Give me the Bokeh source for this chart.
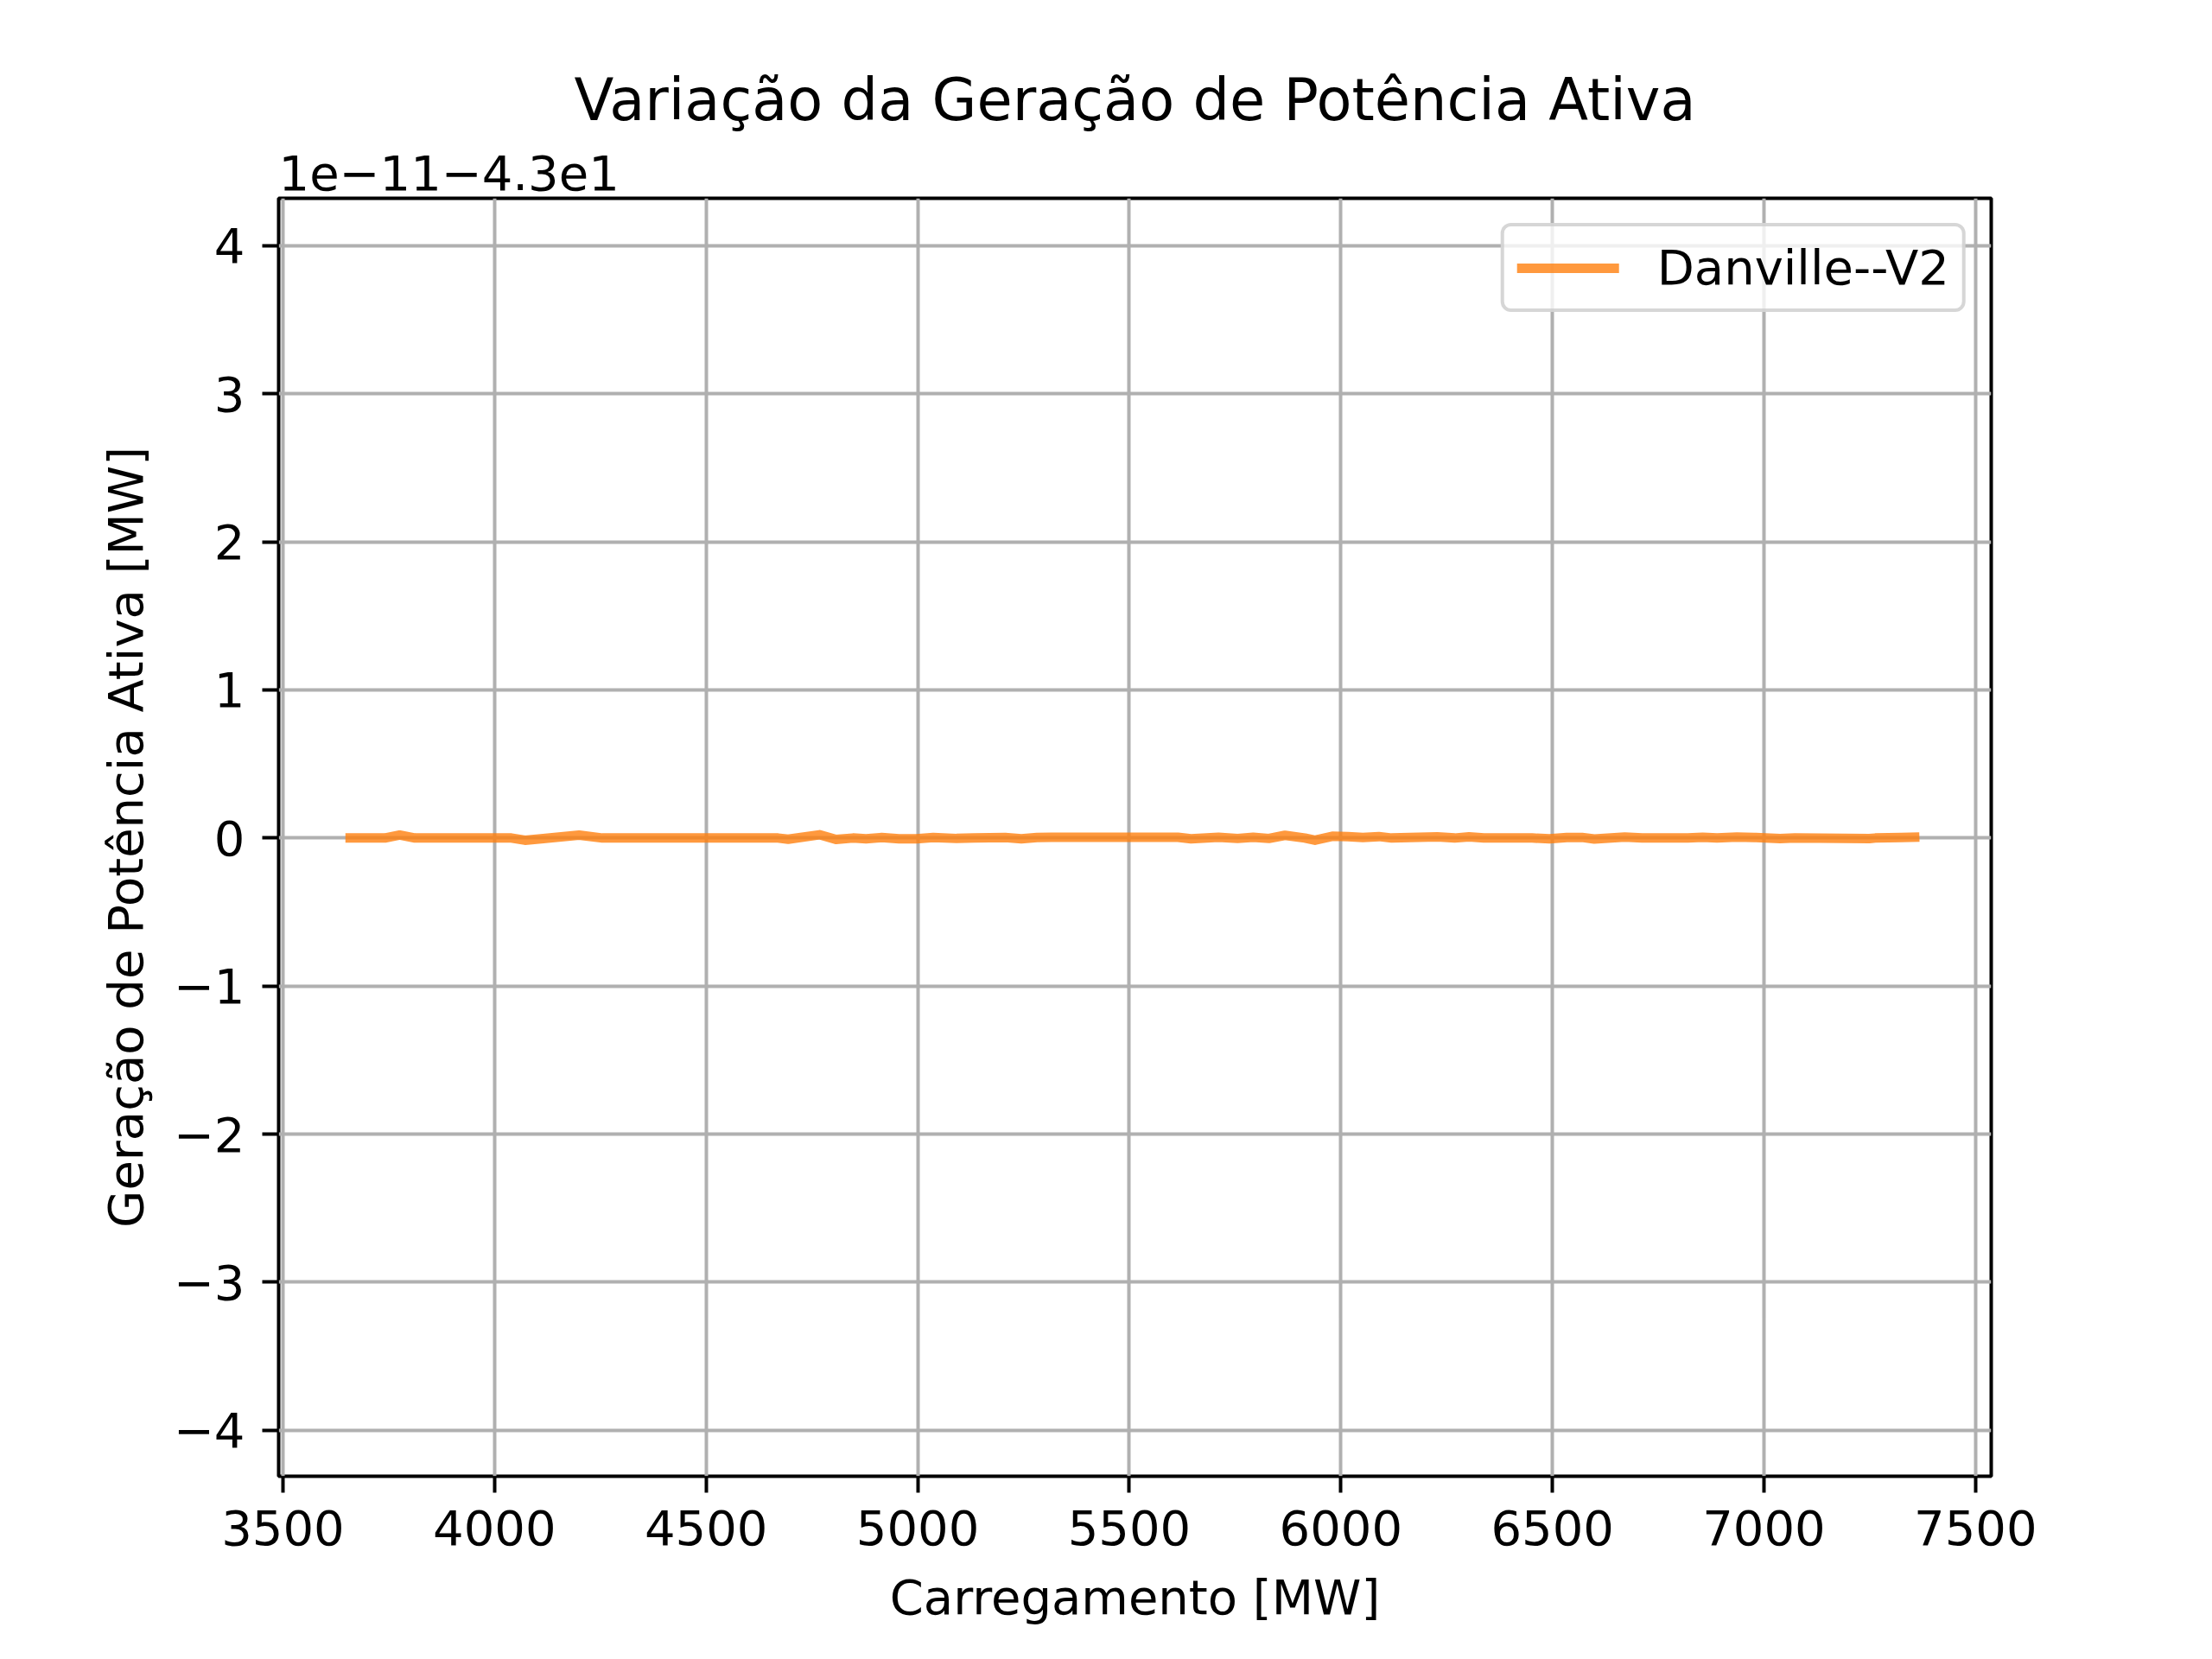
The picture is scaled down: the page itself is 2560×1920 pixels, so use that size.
from bokeh.plotting import figure
from bokeh.models import FixedTicker, Title, Legend, LegendItem, Range1d
from bokeh.embed import file_html
from bokeh.resources import INLINE

# Data (y as offset from -43, in units of 1e-11)
carregamento = [3659, 3741, 3776, 3812, 4040, 4072, 4110, 4200, 4255, 4670, 4694, 4768,
                4807, 4847, 4878, 4915, 4956, 4997, 5037, 5092, 5133, 5207, 5245, 5282,
                5316, 5615, 5646, 5711, 5756, 5793, 5830, 5868, 5915, 5939, 5980, 6017,
                6052, 6090, 6120, 6228, 6269, 6303, 6338, 6452, 6493, 6534, 6570, 6599,
                6671, 6712, 6820, 6855, 6889, 6936, 6977, 7038, 7073, 7249, 7263, 7324,
                7356]
geracao_offset = [0, 0, 0.02, 0, 0, -0.015, -0.005, 0.02, 0, 0, -0.008, 0.022,
                  -0.01, 0, -0.005, 0.003, -0.005, -0.005, 0.004, -0.003, 0, 0.004, -0.005, 0.003,
                  0.005, 0.005, -0.005, 0.005, -0.003, 0.005, -0.003, 0.018, 0, -0.015, 0.012, 0.01,
                  0.003, 0.01, 0, 0.008, 0, 0.008, 0, 0, -0.005, 0.004, 0.004, -0.007,
                  0.007, 0, 0, 0.005, 0, 0.006, 0.004, -0.004, 0, -0.004, 0, 0.003,
                  0.006]
serie_nome = "Danville--V2"
offset_text = "1e\u221211\u22124.3e1"
titulo = "Variação da Geração de Potência Ativa"
x_label = "Carregamento [MW]"
y_label = "Geração de Potência Ativa [MW]"
x_ticks = [3500, 4000, 4500, 5000, 5500, 6000, 6500, 7000, 7500]
y_ticks = [-4, -3, -2, -1, 0, 1, 2, 3, 4]

FONT = "DejaVu Sans"

p = figure(frame_width=1982, frame_height=1479,
           min_border_left=322, min_border_right=256,
           min_border_top=229, min_border_bottom=212,
           output_backend="svg", toolbar_location=None, title=None,
           x_range=Range1d(3490, 7537), y_range=Range1d(-4.31, 4.32))
p.background_fill_color = "white"
p.border_fill_color = "white"
p.outline_line_color = "black"
p.outline_line_width = 4
p.outline_line_alpha = 1

r = p.line(carregamento, geracao_offset, line_color="#ff7f0e", line_alpha=0.8,
           line_width=11, line_join="round", line_cap="square")

for ax, ticks in ((p.xaxis[0], x_ticks), (p.yaxis[0], y_ticks)):
    ax.ticker = FixedTicker(ticks=ticks)
    ax.major_tick_out = 19
    ax.major_tick_in = 0
    ax.minor_tick_line_color = None
    ax.major_tick_line_width = 4
    ax.major_tick_line_color = "black"
    ax.axis_line_color = None
    ax.major_label_text_font = FONT
    ax.major_label_text_font_size = "56px"
    ax.major_label_text_color = "black"
    ax.axis_label_text_font = FONT
    ax.axis_label_text_font_size = "56px"
    ax.axis_label_text_font_style = "normal"
    ax.axis_label_text_color = "black"
    ax.major_label_standoff = 20

p.yaxis[0].major_label_overrides = {t: (str(t).replace("-", "\u2212")) for t in y_ticks}
p.xaxis[0].axis_label = x_label
p.yaxis[0].axis_label = y_label
p.xaxis[0].axis_label_standoff = 25
p.yaxis[0].axis_label_standoff = 20

for g in (p.xgrid[0], p.ygrid[0]):
    g.grid_line_color = "#b0b0b0"
    g.grid_line_width = 4
p.xgrid[0].ticker = FixedTicker(ticks=x_ticks)
p.ygrid[0].ticker = FixedTicker(ticks=y_ticks)

t_off = Title(text=offset_text, align="left", text_font=FONT, text_font_size="56px",
              text_font_style="normal", text_color="black", standoff=20)
p.add_layout(t_off, "above")
t_main = Title(text=titulo, align="center", text_font=FONT, text_font_size="67px",
               text_font_style="normal", text_color="black", standoff=26)
p.add_layout(t_main, "above")

legend = Legend(items=[LegendItem(label=serie_nome, renderers=[r])],
                location="top_right", margin=29, padding=15, spacing=0,
                glyph_width=118, glyph_height=56, label_height=56, label_standoff=44,
                label_text_font=FONT, label_text_font_size="56px", label_text_color="black",
                border_line_color="#cccccc", border_line_width=4, border_line_alpha=0.8,
                background_fill_color="white", background_fill_alpha=0.8)
try:
    legend.border_radius = 12
except Exception:
    pass
p.add_layout(legend, "center")

open("out.html", "w").write(file_html(p, INLINE))
